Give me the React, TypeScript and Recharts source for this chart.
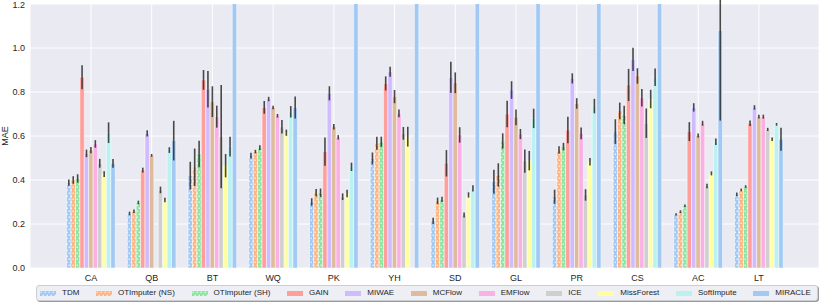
import React from 'react';
import { BarChart, Bar, XAxis, YAxis, CartesianGrid, ErrorBar, Legend } from 'recharts';

const FONT = '"Liberation Sans", Arial, Helvetica, sans-serif';

const categories = ['CA', 'QB', 'BT', 'WQ', 'PK', 'YH', 'SD', 'GL', 'PR', 'CS', 'AC', 'LT'];

const seriesNames = [
  'TDM', 'OTImputer (NS)', 'OTImputer (SH)', 'GAIN', 'MIWAE', 'MCFlow',
  'EMFlow', 'ICE', 'MissForest', 'SoftImpute', 'MIRACLE',
];
const seriesKeys = [
  'tdm', 'otiNs', 'otiSh', 'gain', 'miwae', 'mcflow',
  'emflow', 'ice', 'missforest', 'softimpute', 'miracle',
];

// seaborn "pastel" palette, last one wraps back to blue
const seriesColors = [
  '#a1c9f4', '#ffb482', '#8de5a1', '#ff9f9b', '#d0bbff', '#debb9b',
  '#fab0e4', '#cfcfcf', '#fffea3', '#b9f2f0', '#a1c9f4',
];
const hatched = [true, true, true, false, false, false, false, false, false, false, false];

// MAE per dataset (categories order); null = not available
const tdm = [0.388, 0.248, 0.42, 0.511, 0.3, 0.498, 0.214, 0.392, 0.324, 0.62, 0.244, 0.335];
const otiNs = [0.4, 0.258, 0.458, 0.529, 0.342, 0.567, 0.305, 0.423, 0.536, 0.714, 0.256, 0.355];
const otiSh = [0.407, 0.298, 0.518, 0.547, 0.342, 0.574, 0.312, 0.577, 0.552, 0.695, 0.283, 0.37];
const gain = [0.867, 0.445, 0.855, 0.73, 0.529, 0.839, 0.476, 0.7, 0.627, 0.832, 0.62, 0.658];
const miwae = [0.521, 0.612, 0.812, 0.768, 0.794, 0.892, 0.867, 0.809, 0.862, 0.948, 0.73, 0.73];
const mcflow = [0.536, 0.512, 0.756, 0.73, 0.642, 0.779, 0.842, 0.685, 0.748, 0.873, 0.602, 0.688];
const emflow = [0.564, null, 0.688, 0.692, 0.594, 0.703, 0.605, 0.609, 0.612, 0.774, 0.658, 0.688];
const ice = [0.476, 0.355, 0.597, 0.642, 0.324, 0.612, 0.241, 0.486, 0.332, 0.658, 0.373, 0.63];
const missforest = [0.427, 0.309, 0.465, 0.615, 0.339, 0.597, 0.332, 0.488, 0.483, 0.768, 0.43, 0.585];
const softimpute = [0.615, 0.536, 0.552, 0.71, 0.46, null, 0.362, 0.68, 0.736, 0.867, 0.574, 0.653];
const miracle = [0.476, 0.579, 1.5, 0.73, 1.5, 1.5, 1.5, 1.5, 1.5, 1.5, 1.08, 0.585];

// half-width of the error bars
const tdmErr = [0.014, 0.008, 0.063, 0.013, 0.017, 0.027, 0.014, 0.055, 0.032, 0.056, 0.005, 0.008];
const otiNsErr = [0.017, 0.008, 0.085, 0.008, 0.017, 0.03, 0.015, 0.053, 0.017, 0.038, 0.006, 0.006];
const otiShErr = [0.019, 0.008, 0.06, 0.011, 0.019, 0.023, 0.012, 0.035, 0.017, 0.042, 0.006, 0.006];
const gainErr = [0.055, 0.011, 0.045, 0.029, 0.064, 0.032, 0.06, 0.06, 0.06, 0.073, 0.043, 0.013];
const miwaeErr = [0.017, 0.014, 0.083, 0.01, 0.032, 0.023, 0.07, 0.04, 0.023, 0.053, 0.019, 0.01];
const mcflowErr = [0.014, 0.006, 0.07, 0.008, 0.013, 0.03, 0.047, 0.036, 0.024, 0.035, 0.009, 0.009];
const emflowErr = [0.017, null, 0.05, 0.008, 0.01, 0.018, 0.035, 0.023, 0.027, 0.04, 0.011, 0.009];
const iceErr = [0.02, 0.015, 0.235, 0.031, 0.015, 0.029, 0.011, 0.053, 0.026, 0.067, 0.01, 0.007];
const missforestErr = [0.013, 0.01, 0.053, 0.014, 0.017, 0.045, 0.012, 0.044, 0.017, 0.042, 0.009, 0.008];
const softimputeErr = [0.047, 0.013, 0.045, 0.026, 0.019, null, 0.014, 0.044, 0.033, 0.04, 0.015, 0.006];
const miracleErr = [0.02, 0.09, null, 0.05, null, null, null, null, null, null, 0.41, 0.052];

const yTicks = [0, 0.2, 0.4, 0.6, 0.8, 1.0, 1.2];

const valueLists = [tdm, otiNs, otiSh, gain, miwae, mcflow, emflow, ice, missforest, softimpute, miracle];
const errLists = [tdmErr, otiNsErr, otiShErr, gainErr, miwaeErr, mcflowErr, emflowErr, iceErr, missforestErr, softimputeErr, miracleErr];

const data = categories.map((name, i) => {
  const row: Record<string, any> = { name };
  seriesKeys.forEach((k, j) => {
    row[k] = valueLists[j][i];
    row[k + 'Err'] = errLists[j][i];
  });
  return row;
});

const fillFor = (j: number) => (hatched[j] ? `url(#hatch-${seriesKeys[j]})` : seriesColors[j]);

const LegendBox = () => (
  <div
    style={{
      boxSizing: 'border-box',
      width: 782,
      height: 16,
      display: 'flex',
      justifyContent: 'space-between',
      alignItems: 'center',
      padding: '0 6px 0 3px',
      background: '#eeeef5',
      border: '1px solid #cdcdd4',
      borderRadius: 3,
      boxShadow: '1px 1px 0 #9a9a9a',
      fontFamily: FONT,
      fontSize: 8,
      color: '#262626',
      lineHeight: '8px',
    }}
  >
    {seriesKeys.map((k, j) => (
      <div key={k} style={{ display: 'flex', alignItems: 'center' }}>
        <svg width={16} height={5} style={{ marginRight: 6, display: 'block' }}>
          <rect x={0} y={0} width={16} height={5} fill={fillFor(j)} />
        </svg>
        <span>{seriesNames[j]}</span>
      </div>
    ))}
  </div>
);

export default function App() {
  return (
    <div style={{ position: 'absolute', left: 0, top: 0, width: 822, height: 302, fontFamily: FONT }}>
      <BarChart
        width={822}
        height={302}
        data={data}
        margin={{ top: 4, right: 3, bottom: 1, left: 0 }}
        barGap={0}
      >
        <defs>
          {seriesKeys.map((k, j) =>
            hatched[j] ? (
              <pattern key={k} id={`hatch-${k}`} patternUnits="userSpaceOnUse" width={4} height={6}>
                <rect x={0} y={0} width={4} height={6} fill={seriesColors[j]} />
                <rect x={0.6} y={0.6} width={1.2} height={1.3} fill="#ffffff" />
                <rect x={2.6} y={3.6} width={1.2} height={1.3} fill="#ffffff" />
              </pattern>
            ) : null
          )}
        </defs>
        <CartesianGrid stroke="#ffffff" strokeWidth={1} fill="#eaeaf2" />
        <XAxis
          dataKey="name"
          height={17}
          axisLine={false}
          tickLine={false}
          tickSize={0}
          tickMargin={7}
          padding={{ left: 30.6, right: 29.7 }}
          tick={{ fontSize: 9, fill: '#262626', fontFamily: FONT }}
          interval={0}
        />
        <YAxis
          width={30}
          domain={[0, 1.2]}
          ticks={yTicks}
          allowDataOverflow
          axisLine={false}
          tickLine={false}
          tickSize={0}
          tickMargin={5}
          tickFormatter={(v: number) => v.toFixed(1)}
          tick={{ fontSize: 9, fill: '#262626', fontFamily: FONT }}
          label={{
            value: 'MAE',
            angle: -90,
            position: 'insideLeft',
            offset: 5,
            style: { textAnchor: 'middle', fontSize: 9, fill: '#262626', fontFamily: FONT },
          }}
        />
        <Legend
          content={() => <LegendBox />}
          verticalAlign="bottom"
          wrapperStyle={{ left: 36, top: 285, width: 782 }}
        />
        {seriesKeys.map((k, j) => (
          <Bar
            key={k}
            dataKey={k}
            name={seriesNames[j]}
            fill={fillFor(j)}
            stroke="#ffffff"
            strokeWidth={0.5}
            barSize={4.42}
            isAnimationActive={false}
          >
            <ErrorBar
              dataKey={k + 'Err'}
              width={0}
              stroke="#2b2b2b"
              strokeOpacity={0.85}
              strokeWidth={1.6}
              isAnimationActive={false}
            />
          </Bar>
        ))}
      </BarChart>
    </div>
  );
}
